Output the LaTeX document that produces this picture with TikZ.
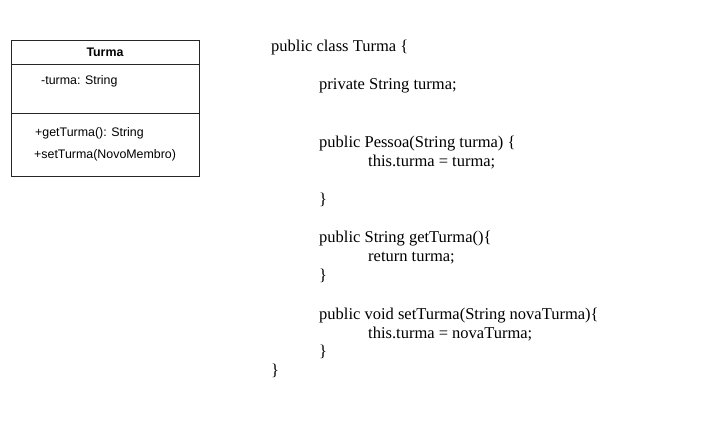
\documentclass[tikz,border=0pt]{standalone}
\usepackage{fontspec}
\setmainfont{Liberation Serif}
\newfontfamily\umlfont{Liberation Sans}
\usepackage{tikz}
\usetikzlibrary{positioning}

\begin{document}
\begin{tikzpicture}[x=1pt,y=-1pt,
    code/.style={anchor=base west,inner sep=0pt,font=\fontsize{16.5}{18}\selectfont},
    uml/.style={anchor=west,inner sep=0pt,font=\umlfont\fontsize{12.4}{14}\selectfont},
    umlbox/.style={draw=black!85,line width=0.8pt}]
        \useasboundingbox (0,0) rectangle (710,428);
        \draw[umlbox] (11,40) rectangle (199,176);
        \draw[umlbox] (11,64.5) -- (199,64.5);
        \draw[umlbox] (11,113.5) -- (199,113.5);
        \node[inner sep=0pt,font=\umlfont\bfseries\fontsize{12.4}{14}\selectfont] at (105,52.5) (titulo) {Turma};
        \node[uml] at (41,81.5) (atributo) {-turma: String};
        \node[uml] at (35,133.5) (getter) {+getTurma(): String};
        \node[uml] at (34,155.5) (setter) {+setTurma(NovoMembro)};
        \node[code] at (271,51.5) (cls) {public class Turma \{};
        \node[code] at (319,89) (campo) {private String turma;};
        \node[code] at (319,147.5) (ctor) {public Pessoa(String turma) \{};
        \node[code] at (368,166) (ctorbody) {this.turma = turma;};
        \node[code] at (319,204) (ctorend) {\}};
        \node[code] at (319,242.5) (get) {public String getTurma()\{};
        \node[code] at (368,261.5) (getbody) {return turma;};
        \node[code] at (319,280) (getend) {\}};
        \node[code] at (319,319) (set) {public void setTurma(String novaTurma)\{};
        \node[code] at (368,338) (setbody) {this.turma = novaTurma;};
        \node[code] at (319,356.5) (setend) {\}};
        \node[code] at (271,375) (clsend) {\}};
    \end{tikzpicture}
\end{document}
